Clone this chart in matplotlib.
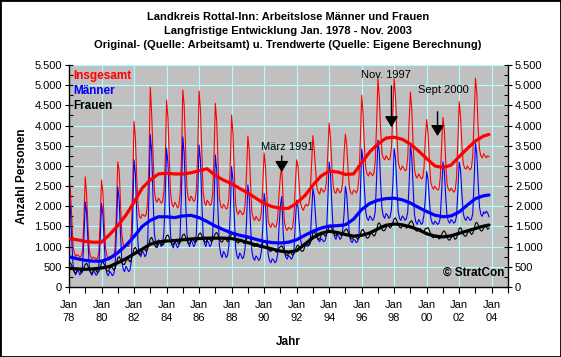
import numpy as np
import matplotlib
matplotlib.use("Agg")
import matplotlib.pyplot as plt
from matplotlib.ticker import MultipleLocator, FixedLocator, FuncFormatter
from matplotlib.patches import Rectangle

# ---------------- data (monthly, Jan 1978 - Nov 2003) ----------------
insgesamt = [
    2700, 2400, 1750, 1000, 840, 760, 800, 780, 740, 760, 900, 1700,      # 1978
    2730, 2300, 1500, 900, 760, 700, 740, 720, 690, 720, 850, 1650,       # 1979
    2650, 2350, 1600, 950, 780, 720, 760, 740, 730, 760, 950, 1900,       # 1980
    3100, 2900, 2100, 1300, 1050, 980, 1050, 1020, 1000, 1100, 1350, 2500,  # 1981
    4100, 3700, 2700, 2000, 1750, 1700, 1800, 1780, 1750, 1800, 2100, 3000,  # 1982
    4950, 4300, 3300, 2400, 2150, 2100, 2200, 2150, 2080, 2100, 2350, 3100,  # 1983
    4630, 4200, 3200, 2300, 2050, 1980, 2100, 2050, 1960, 2000, 2300, 3200,  # 1984
    4880, 4500, 3500, 2450, 2200, 2130, 2250, 2200, 2120, 2150, 2400, 3300,  # 1985
    4860, 4400, 3400, 2350, 2100, 2020, 2150, 2100, 2020, 2050, 2300, 3200,  # 1986
    4550, 4100, 3100, 2200, 2000, 1950, 2050, 2000, 1930, 1960, 2200, 3000,  # 1987
    4260, 3800, 2850, 2050, 1850, 1800, 1900, 1850, 1790, 1820, 2050, 2800,  # 1988
    3740, 3400, 2550, 1850, 1700, 1650, 1750, 1700, 1640, 1660, 1850, 2500,  # 1989
    3320, 3000, 2250, 1650, 1520, 1480, 1580, 1540, 1480, 1500, 1700, 2300,  # 1990
    2750, 2980, 2200, 1600, 1450, 1400, 1480, 1450, 1420, 1480, 1750, 2500,  # 1991
    3150, 3000, 2450, 2050, 1950, 1900, 2000, 2050, 2000, 2050, 2300, 3000,  # 1992
    3750, 3400, 2900, 2450, 2350, 2300, 2450, 2400, 2350, 2400, 2600, 3300,  # 1993
    4060, 3700, 3000, 2500, 2350, 2320, 2450, 2400, 2330, 2380, 2600, 3300,  # 1994
    3790, 3500, 2900, 2450, 2330, 2300, 2400, 2380, 2330, 2400, 2700, 3600,  # 1995
    4750, 4300, 3500, 2950, 2800, 2750, 2850, 2800, 2760, 2820, 3100, 4000,  # 1996
    5170, 4700, 3900, 3300, 3200, 3150, 3250, 3200, 3150, 3180, 3450, 4300,  # 1997
    5170, 4700, 3800, 3100, 2950, 2900, 3000, 2950, 2880, 2900, 3200, 4100,  # 1998
    4830, 4400, 3500, 2900, 2750, 2700, 2800, 2750, 2680, 2700, 2950, 3700,  # 1999
    4150, 3800, 3100, 2600, 2480, 2420, 2500, 2450, 2400, 2430, 2700, 3500,  # 2000
    4200, 3900, 3100, 2550, 2420, 2380, 2450, 2400, 2350, 2400, 2700, 3600,  # 2001
    4590, 4200, 3500, 3050, 2950, 2920, 3000, 2950, 2900, 2950, 3250, 4200,  # 2002
    5170, 4800, 3900, 3400, 3250, 3200, 3300, 3250, 3200, 3250, 3230,        # 2003
]

maenner = [
    2240, 1950, 1170, 530, 360, 300, 420, 380, 300, 340, 530, 1200,       # 1978
    2110, 1840, 1110, 510, 340, 290, 400, 360, 290, 330, 510, 1180,       # 1979
    2070, 1800, 1080, 490, 330, 280, 390, 350, 280, 320, 500, 1380,       # 1980
    2480, 2170, 1330, 630, 440, 380, 510, 460, 380, 420, 630, 1770,       # 1981
    3150, 2790, 1830, 1040, 820, 750, 890, 850, 750, 800, 1040, 2260,     # 1982
    3770, 3350, 2250, 1330, 1080, 1000, 1170, 1110, 1000, 1060, 1330, 2220,  # 1983
    3440, 3070, 2080, 1270, 1040, 970, 1120, 1070, 970, 1020, 1270, 2350,    # 1984
    3720, 3310, 2220, 1330, 1080, 1000, 1160, 1110, 1000, 1050, 1330, 2260,  # 1985
    3520, 3140, 2130, 1300, 1080, 1000, 1150, 1100, 1000, 1050, 1300, 2000,  # 1986
    3270, 2890, 1870, 1030, 810, 730, 880, 830, 730, 780, 1030, 1840,     # 1987
    2980, 2640, 1730, 970, 770, 700, 840, 790, 700, 750, 970, 1600,       # 1988
    2530, 2250, 1500, 880, 720, 660, 770, 730, 660, 700, 880, 1460,       # 1989
    2320, 2060, 1370, 810, 650, 600, 700, 670, 600, 640, 810, 1470,       # 1990
    2000, 2240, 1400, 880, 740, 690, 780, 750, 690, 730, 880, 1580,       # 1991
    2150, 1980, 1520, 1140, 1030, 1000, 1070, 1050, 1000, 1030, 1140, 1780,  # 1992
    2440, 2240, 1720, 1280, 1160, 1120, 1200, 1170, 1120, 1150, 1280, 2140,  # 1993
    3100, 2810, 2040, 1410, 1240, 1180, 1300, 1260, 1180, 1220, 1410, 1800,  # 1994
    2490, 2280, 1730, 1270, 1140, 1100, 1180, 1160, 1100, 1130, 1270, 2260,  # 1995
    3420, 3150, 2450, 1860, 1700, 1650, 1760, 1720, 1650, 1690, 1860, 2670,  # 1996
    3640, 3350, 2570, 1930, 1760, 1700, 1820, 1780, 1700, 1740, 1930, 2540,  # 1997
    3430, 3160, 2450, 1860, 1700, 1650, 1760, 1720, 1650, 1690, 1860, 2540,  # 1998
    3520, 3220, 2440, 1790, 1610, 1550, 1670, 1630, 1550, 1590, 1790, 2200,  # 1999
    2860, 2660, 2140, 1710, 1590, 1550, 1630, 1600, 1550, 1580, 1710, 2340,  # 2000
    3100, 2870, 2260, 1760, 1630, 1580, 1670, 1640, 1580, 1610, 1760, 2380,  # 2001
    3100, 2880, 2300, 1820, 1690, 1650, 1740, 1710, 1650, 1680, 1820, 2650,  # 2002
    3560, 3290, 2560, 1970, 1800, 1750, 1860, 1820, 1880, 1830, 1740,        # 2003
]

frauen = [
    580, 600, 530, 430, 370, 350, 410, 450, 420, 350, 380, 480,           # 1978
    560, 590, 520, 420, 360, 340, 400, 440, 410, 350, 380, 480,           # 1979
    590, 620, 560, 460, 400, 390, 460, 500, 480, 420, 460, 570,           # 1980
    720, 750, 690, 600, 560, 560, 640, 690, 670, 620, 680, 800,           # 1981
    950, 980, 920, 830, 800, 820, 900, 950, 930, 880, 940, 1060,          # 1982
    1200, 1230, 1150, 1050, 990, 980, 1060, 1110, 1080, 1030, 1070, 1180,  # 1983
    1270, 1290, 1220, 1120, 1060, 1050, 1110, 1150, 1120, 1060, 1100, 1200,  # 1984
    1290, 1310, 1250, 1150, 1090, 1080, 1140, 1190, 1160, 1100, 1130, 1230,  # 1985
    1320, 1340, 1280, 1180, 1120, 1110, 1170, 1210, 1180, 1120, 1150, 1250,  # 1986
    1330, 1350, 1290, 1190, 1130, 1110, 1170, 1210, 1180, 1120, 1150, 1240,  # 1987
    1310, 1330, 1270, 1170, 1110, 1090, 1140, 1180, 1140, 1080, 1100, 1190,  # 1988
    1230, 1250, 1180, 1080, 1020, 1000, 1050, 1080, 1040, 980, 1000, 1090,   # 1989
    1110, 1130, 1060, 960, 900, 880, 930, 960, 920, 860, 880, 960,           # 1990
    1000, 1020, 960, 860, 800, 780, 830, 870, 840, 790, 820, 910,           # 1991
    1010, 1040, 990, 910, 880, 900, 990, 1060, 1060, 1030, 1080, 1200,      # 1992
    1340, 1370, 1310, 1220, 1180, 1190, 1270, 1330, 1310, 1260, 1300, 1400,  # 1993
    1500, 1520, 1450, 1350, 1290, 1270, 1320, 1360, 1330, 1270, 1290, 1380,  # 1994
    1420, 1440, 1370, 1270, 1210, 1190, 1230, 1270, 1240, 1180, 1210, 1310,  # 1995
    1400, 1430, 1360, 1260, 1210, 1220, 1280, 1330, 1310, 1260, 1290, 1400,  # 1996
    1560, 1590, 1530, 1430, 1390, 1400, 1470, 1530, 1510, 1460, 1500, 1600,  # 1997
    1690, 1710, 1640, 1540, 1480, 1460, 1510, 1550, 1520, 1460, 1480, 1570,  # 1998
    1620, 1640, 1570, 1460, 1400, 1380, 1420, 1450, 1410, 1350, 1370, 1450,  # 1999
    1450, 1470, 1400, 1300, 1240, 1220, 1260, 1290, 1250, 1190, 1210, 1300,  # 2000
    1370, 1390, 1330, 1230, 1170, 1160, 1220, 1260, 1240, 1180, 1210, 1310,  # 2001
    1450, 1470, 1410, 1310, 1260, 1260, 1330, 1380, 1360, 1300, 1330, 1430,  # 2002
    1580, 1600, 1540, 1440, 1390, 1390, 1460, 1510, 1490, 1430, 1460,        # 2003
]

# Trend values, every six months (Jan / Jul) from Jan 1978, plus Nov 2003
trend_months = list(range(0, 307, 6)) + [310]
trend_insgesamt = [
    1200, 1170, 1130, 1110, 1110, 1300, 1520, 1780, 2100, 2450,
    2650, 2800, 2820, 2800, 2800, 2830, 2880, 2930, 2760, 2650,
    2560, 2440, 2330, 2200, 2070, 1990, 1950, 1950, 2080, 2260,
    2520, 2750, 2870, 2850, 2790, 2800, 3080, 3350, 3540, 3690,
    3710, 3660, 3540, 3370, 3180, 3000, 2960, 3020, 3230, 3430,
    3620, 3740, 3780,
]
trend_maenner = [
    750, 700, 660, 640, 640, 710, 850, 1030, 1250, 1500,
    1650, 1740, 1740, 1720, 1760, 1775, 1720, 1620, 1510, 1420,
    1340, 1280, 1240, 1180, 1130, 1100, 1090, 1110, 1170, 1280,
    1380, 1460, 1510, 1520, 1540, 1680, 1920, 2070, 2150, 2190,
    2200, 2160, 2080, 1970, 1870, 1780, 1740, 1760, 1860, 2030,
    2190, 2260, 2280,
]
trend_frauen = [
    460, 450, 440, 450, 470, 510, 600, 700, 820, 940,
    1060, 1120, 1140, 1150, 1170, 1190, 1200, 1210, 1210, 1210,
    1200, 1160, 1100, 1040, 990, 940, 890, 865, 900, 1060,
    1220, 1330, 1380, 1350, 1300, 1260, 1280, 1340, 1440, 1530,
    1560, 1540, 1490, 1420, 1320, 1260, 1240, 1270, 1330, 1390,
    1450, 1510, 1535,
]

year_labels = ["78", "80", "82", "84", "86", "88", "90", "92",
               "94", "96", "98", "00", "02", "04"]
series_names = ["Insgesamt", "Männer", "Frauen"]
series_colors = ["#ff0000", "#0000ff", "#000000"]

annot_text = ["März 1991", "Nov. 1997", "Sept 2000"]
annot_month = [157, 238, 272]          # month index of arrow
annot_tip = [2850, 3960, 3740]
annot_tail = [3250, 4980, 4340]
annot_text_xy = [(161, 3470), (234, 5250), (276, 4880)]

titles = ["Landkreis Rottal-Inn: Arbeitslose Männer und Frauen",
          "Langfristige Entwicklung Jan. 1978 - Nov. 2003",
          "Original- (Quelle: Arbeitsamt) u. Trendwerte (Quelle: Eigene Berechnung)"]

# ---------------- figure ----------------
plt.rcParams['font.family'] = ['Liberation Sans', 'DejaVu Sans']
W, H = 561, 357
fig = plt.figure(figsize=(W / 100, H / 100), dpi=100, facecolor='white')


def fx(px):
    return px / W


def fy(py):
    return 1 - py / H


ax = fig.add_axes([fx(69), fy(287), fx(508) - fx(69), fy(65) - fy(287)])
ax.set_facecolor('#c0c0c0')

x = np.arange(len(insgesamt))
raw = [insgesamt, maenner, frauen]
trends = [trend_insgesamt, trend_maenner, trend_frauen]
for vals, col in zip(raw, series_colors):
    ax.plot(x, vals, color=col, lw=0.8, zorder=2)
for vals, col in zip(trends, series_colors):
    ax.plot(trend_months, vals, color=col, lw=2.3, zorder=3,
            solid_joinstyle='round', solid_capstyle='round')

ax.set_xlim(0, 324)
ax.set_ylim(0, 5500)

ax.xaxis.set_major_locator(FixedLocator(list(range(0, 313, 24))))
ax.set_xticklabels([f"Jan\n{y}" for y in year_labels])
ax.xaxis.set_minor_locator(MultipleLocator(12))
ax.yaxis.set_major_locator(MultipleLocator(500))
ax.yaxis.set_minor_locator(MultipleLocator(250))
ax.yaxis.set_major_formatter(FuncFormatter(lambda v, p: f"{int(v):,}".replace(",", ".")))

ax.grid(which='major', color='#b0ffff', lw=0.8, zorder=0)
ax.set_axisbelow(True)

ax.tick_params(axis='y', which='major', direction='inout', length=6, width=0.8,
               labelsize=8, left=True, right=True, labelleft=True, labelright=True, pad=2)
ax.tick_params(axis='y', which='minor', direction='in', length=3, width=0.8,
               left=True, right=True)
ax.tick_params(axis='x', which='both', direction='out', length=4, width=0.8,
               labelsize=8, pad=5)
for lab in ax.get_xticklabels():
    lab.set_linespacing(1.45)

ax.spines['top'].set_visible(False)
for s in ['left', 'right', 'bottom']:
    ax.spines[s].set_linewidth(1)
    ax.spines[s].set_color('black')

# legend-like labels
for i, (name, col) in enumerate(zip(series_names, series_colors)):
    fig.text(fx(73), fy(76 + 15 * i), name, color=col, fontsize=8.5,
             fontweight='bold', ha='left', va='center')

# annotations
for t, m, tip, tail, txy in zip(annot_text, annot_month, annot_tip, annot_tail, annot_text_xy):
    ax.annotate("", xy=(m, tip), xytext=(m, tail),
                arrowprops=dict(arrowstyle='-|>,head_length=0.65,head_width=0.4',
                                color='black', lw=1, mutation_scale=10,
                                shrinkA=0, shrinkB=0), zorder=5)
    ax.text(txy[0], txy[1], t, ha='center', va='center', fontsize=8, zorder=5)

# titles
for i, t in enumerate(titles):
    fig.text(fx(288), fy(16.5 + 14.5 * i), t, ha='center', va='center',
             fontsize=8, fontweight='bold')

fig.text(fx(22), fy(176), "Anzahl Personen", rotation=90, ha='center', va='center',
         fontsize=8.5, fontweight='bold')
fig.text(fx(288), fy(342), "Jahr", ha='center', va='center', fontsize=8.5, fontweight='bold')
fig.text(fx(504), fy(273), "© StratCon", ha='right', va='center', fontsize=8.5,
         fontweight='bold')

fig.add_artist(Rectangle((0, 0), 1, 1, transform=fig.transFigure, fill=False,
                         edgecolor='black', lw=2))

fig.savefig('out.png', dpi=100, facecolor='white')
